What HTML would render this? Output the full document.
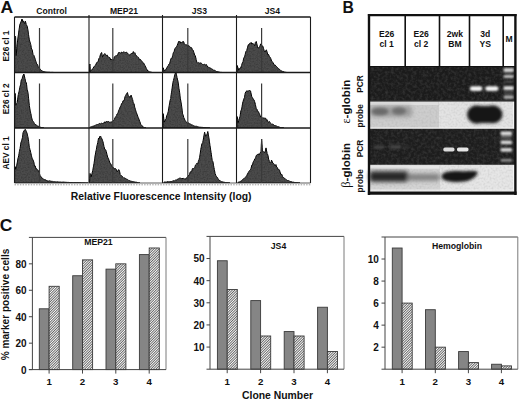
<!DOCTYPE html>
<html><head><meta charset="utf-8"><style>
html,body{margin:0;padding:0;background:#fff;}
svg{display:block;}
text{font-family:"Liberation Sans",sans-serif;}
</style></head><body>
<svg width="520" height="401" viewBox="0 0 520 401">
<rect width="520" height="401" fill="#fff"/>
<defs>
<filter id="hn" x="0" y="0" width="100%" height="100%"><feTurbulence type="fractalNoise" baseFrequency="0.7" numOctaves="1" seed="5" result="t"/><feColorMatrix in="t" type="matrix" values="0 0 0 0 0  0 0 0 0 0  0 0 0 0 0  0.9 0 0 0 -0.35" result="n"/><feComposite in="n" in2="SourceGraphic" operator="in" result="nn"/><feMerge><feMergeNode in="SourceGraphic"/><feMergeNode in="nn"/></feMerge></filter>
<filter id="b1" x="-50%" y="-50%" width="200%" height="200%"><feGaussianBlur stdDeviation="1.2"/></filter>
<filter id="b2" x="-50%" y="-50%" width="200%" height="200%"><feGaussianBlur stdDeviation="2"/></filter>
<filter id="b05" x="-50%" y="-50%" width="200%" height="200%"><feGaussianBlur stdDeviation="0.6"/></filter>
<filter id="noiseD" x="0" y="0" width="100%" height="100%"><feTurbulence type="fractalNoise" baseFrequency="0.35" numOctaves="2" seed="3"/><feColorMatrix type="matrix" values="0 0 0 0 1  0 0 0 0 1  0 0 0 0 1  0.22 0 0 0 -0.085"/></filter>
<filter id="noiseL" x="0" y="0" width="100%" height="100%"><feTurbulence type="fractalNoise" baseFrequency="0.5" numOctaves="2" seed="8"/><feColorMatrix type="matrix" values="0 0 0 0 0.3  0 0 0 0 0.3  0 0 0 0 0.3  0.5 0 0 0 -0.2"/></filter>
<filter id="b07" x="-50%" y="-50%" width="200%" height="200%"><feGaussianBlur stdDeviation="0.7"/></filter>
<filter id="b1g" x="-50%" y="-50%" width="200%" height="200%"><feGaussianBlur stdDeviation="0.9"/></filter>
<filter id="b15" x="-50%" y="-50%" width="200%" height="200%"><feGaussianBlur stdDeviation="1.5"/></filter>
<pattern id="hatch" patternUnits="userSpaceOnUse" width="1.8" height="1.8" patternTransform="rotate(45)">
<rect width="1.8" height="1.8" fill="#fafafa"/><rect width="0.7" height="1.8" fill="#3a3a3a"/></pattern>
</defs>
<path d="M14.6,72.5 L14.6,36.7 L15.6,36.5 L16.2,55.6 L17.0,46.4 L17.8,38.9 L18.5,34.1 L19.1,29.6 L19.8,24.7 L21.0,22.0 L22.0,19.0 L23.0,22.3 L23.5,20.9 L24.5,23.9 L25.4,21.2 L26.3,24.8 L27.2,26.2 L27.9,29.9 L28.5,34.3 L29.2,39.1 L30.0,42.1 L30.8,44.7 L31.5,49.2 L32.2,49.6 L33.0,54.4 L33.8,55.2 L34.5,57.1 L35.2,59.2 L36.0,61.8 L36.8,64.3 L37.5,64.4 L38.1,66.3 L38.8,67.6 L39.5,68.3 L40.3,69.5 L41.0,70.0 L41.8,70.8 L42.4,71.1 L43.1,71.4 L43.7,71.6 L44.4,71.8 L45.0,72.0 L45.7,72.0 L46.3,72.1 L47.0,72.2 L47.7,72.2 L48.3,72.2 L49.0,72.3 L49.6,72.3 L50.2,72.4 L50.8,72.4 L51.4,72.4 L52.0,72.4 L52.6,72.4 L53.2,72.4 L53.8,72.5 L54.4,72.5 L55.0,72.5 L55.0,72.5 Z" fill="#4c4c4c" stroke="#111" stroke-width="1" stroke-linejoin="miter" filter="url(#hn)"/>
<path d="M89.5,72.5 L89.5,72.5 L89.8,64.0 L90.4,71.7 L91.1,70.9 L91.7,70.0 L92.4,69.0 L93.1,68.4 L93.8,66.8 L94.6,66.4 L95.3,65.4 L96.0,64.1 L96.8,62.5 L97.5,62.3 L98.2,61.3 L98.9,58.6 L99.7,57.6 L100.4,54.6 L101.6,52.5 L102.6,56.9 L103.3,56.3 L104.0,54.3 L104.8,53.5 L105.5,54.4 L106.3,55.7 L107.0,54.9 L107.8,56.9 L108.5,57.0 L109.2,57.4 L110.0,57.8 L110.7,60.1 L111.4,59.1 L112.1,60.1 L112.8,59.8 L113.6,60.4 L114.3,56.9 L115.0,56.4 L115.7,55.9 L116.5,56.0 L117.2,55.1 L117.8,54.8 L118.4,52.8 L119.0,52.7 L119.6,52.1 L120.2,53.0 L120.9,53.7 L121.6,52.1 L122.3,52.7 L123.0,52.3 L123.8,51.8 L124.5,52.0 L125.2,52.7 L126.0,52.4 L126.7,52.2 L127.4,53.6 L128.2,53.7 L128.9,54.5 L129.6,55.2 L130.4,54.3 L131.1,53.5 L131.8,53.6 L132.6,53.5 L133.3,51.6 L134.1,53.4 L134.8,52.7 L135.5,54.5 L136.3,55.8 L137.0,56.2 L137.7,57.2 L138.5,57.4 L139.2,59.7 L139.9,59.0 L140.7,59.7 L141.4,60.8 L142.1,61.5 L142.8,62.7 L143.5,62.9 L144.2,64.1 L145.0,65.7 L145.7,66.9 L146.4,68.7 L147.2,70.0 L147.9,71.0 L148.7,71.3 L149.4,71.7 L150.1,71.9 L150.9,72.1 L151.6,72.3 L152.3,72.5 L152.3,72.5 Z" fill="#4c4c4c" stroke="#111" stroke-width="1" stroke-linejoin="miter" filter="url(#hn)"/>
<path d="M163.0,72.5 L163.0,72.5 L163.2,67.8 L163.9,69.8 L164.7,71.2 L165.4,70.0 L166.1,69.1 L166.8,67.8 L167.5,66.4 L168.3,65.5 L169.0,64.0 L169.7,63.6 L170.5,60.2 L171.2,58.2 L171.9,58.6 L172.7,55.5 L173.4,52.6 L174.1,51.7 L174.9,48.4 L175.6,47.8 L176.3,47.5 L177.1,45.7 L177.8,43.8 L178.8,41.2 L179.4,41.7 L180.1,41.5 L180.7,43.3 L181.4,42.4 L182.2,42.8 L182.9,41.4 L183.7,41.8 L184.4,44.1 L185.1,44.8 L185.9,44.7 L186.6,44.8 L187.3,45.6 L188.0,46.1 L188.8,45.5 L189.5,47.0 L190.2,47.4 L191.0,47.2 L191.7,48.0 L192.4,49.6 L193.2,50.4 L193.9,52.5 L194.6,55.0 L195.3,55.6 L196.1,59.4 L196.8,62.1 L197.5,63.0 L198.3,62.5 L199.0,63.2 L199.7,63.1 L200.5,63.0 L201.2,62.9 L201.9,63.9 L202.7,64.7 L203.4,64.7 L204.1,64.1 L204.9,64.6 L205.6,65.1 L206.3,64.4 L207.1,66.0 L207.8,67.0 L208.5,67.3 L209.2,67.7 L210.0,67.9 L210.7,68.1 L211.4,69.0 L212.1,69.0 L212.9,69.7 L213.6,70.2 L214.3,70.2 L215.1,70.6 L215.8,71.2 L216.5,71.5 L217.1,71.5 L217.7,71.7 L218.3,71.8 L218.9,72.1 L219.5,72.2 L220.1,72.3 L220.8,72.4 L221.4,72.4 L222.0,72.5 L222.0,72.5 Z" fill="#4c4c4c" stroke="#111" stroke-width="1" stroke-linejoin="miter" filter="url(#hn)"/>
<path d="M237.0,72.5 L237.0,72.5 L237.2,65.5 L237.9,67.6 L238.7,70.3 L239.4,69.1 L240.1,67.9 L240.8,68.0 L241.5,65.5 L242.3,63.1 L243.0,61.9 L243.7,58.2 L244.5,56.9 L245.2,54.3 L245.9,51.6 L246.7,50.7 L247.4,47.9 L248.2,44.8 L248.9,45.0 L249.6,43.4 L250.3,43.5 L251.1,42.4 L251.8,44.1 L252.6,43.1 L253.3,43.9 L254.0,44.6 L254.7,45.9 L255.4,42.4 L256.2,41.5 L256.9,44.1 L257.7,47.8 L258.4,48.1 L259.1,47.1 L259.9,46.4 L260.6,44.0 L261.3,43.9 L262.0,46.3 L262.8,46.1 L263.5,48.3 L264.2,50.8 L265.0,52.1 L265.7,50.5 L266.4,49.9 L267.1,52.2 L267.9,55.0 L268.6,54.5 L269.4,56.9 L270.1,57.2 L270.8,58.6 L271.6,61.1 L272.3,61.6 L273.0,62.7 L273.8,64.1 L274.5,65.3 L275.2,65.1 L276.0,66.1 L276.7,66.7 L277.4,67.4 L278.1,68.4 L278.8,68.9 L279.4,69.3 L280.0,69.7 L280.6,70.4 L281.2,70.7 L281.8,71.1 L282.5,71.4 L283.2,71.5 L284.0,71.9 L284.7,72.2 L285.5,72.3 L286.2,72.4 L287.0,72.5 L287.0,72.5 Z" fill="#4c4c4c" stroke="#111" stroke-width="1" stroke-linejoin="miter" filter="url(#hn)"/>
<path d="M14.6,128.0 L14.6,93.9 L15.3,93.5 L15.8,105.4 L16.5,103.4 L17.2,102.7 L18.4,94.3 L19.1,91.4 L19.8,87.3 L20.6,84.7 L21.3,79.9 L22.1,78.8 L22.8,76.1 L23.9,74.0 L25.0,78.8 L25.7,82.0 L26.4,83.0 L27.1,89.3 L27.9,92.2 L28.6,98.3 L29.3,105.5 L30.1,110.2 L30.8,113.5 L31.5,117.1 L32.3,120.2 L33.0,121.2 L33.8,122.3 L34.5,123.7 L35.2,124.6 L36.0,124.6 L36.7,125.5 L37.4,126.0 L38.1,126.1 L38.8,126.5 L39.6,126.9 L40.3,127.2 L40.9,127.3 L41.5,127.5 L42.1,127.6 L42.8,127.8 L43.4,127.9 L44.0,128.0 L44.0,128.0 Z" fill="#4c4c4c" stroke="#111" stroke-width="1" stroke-linejoin="miter" filter="url(#hn)"/>
<path d="M89.5,128.0 L89.5,128.0 L90.2,127.2 L90.9,126.8 L91.6,126.8 L92.4,126.4 L93.1,126.1 L93.8,126.0 L94.4,125.9 L95.0,125.6 L95.6,125.0 L96.2,124.6 L96.8,124.9 L97.5,124.5 L98.2,124.4 L99.0,123.7 L99.7,123.5 L100.4,123.9 L101.2,123.5 L101.9,122.9 L102.6,123.7 L103.3,123.1 L104.1,123.1 L104.8,121.8 L105.5,122.7 L106.3,121.3 L107.0,122.2 L107.7,121.6 L108.5,121.5 L109.2,121.8 L109.9,122.6 L110.7,121.8 L111.4,121.9 L112.1,122.1 L112.8,121.3 L113.5,120.3 L114.3,119.6 L115.0,117.8 L115.8,116.5 L116.5,115.4 L117.2,113.9 L118.0,113.2 L118.7,110.2 L119.4,109.2 L120.2,106.9 L120.9,105.9 L121.6,103.6 L122.4,102.8 L123.1,100.7 L123.8,101.1 L124.5,99.1 L125.1,96.4 L125.7,95.3 L126.7,93.6 L127.4,92.6 L128.2,95.5 L128.9,96.0 L129.7,97.6 L130.4,97.4 L131.1,95.1 L131.8,97.2 L132.6,99.5 L133.3,102.9 L134.0,103.8 L134.8,107.6 L135.5,109.8 L136.2,112.2 L137.0,114.2 L137.7,116.2 L138.4,117.8 L139.2,119.9 L139.9,121.8 L140.6,124.1 L141.3,125.1 L142.0,125.8 L142.8,126.4 L143.5,127.3 L144.1,127.5 L144.8,127.6 L145.4,127.8 L146.0,128.0 L146.0,128.0 Z" fill="#4c4c4c" stroke="#111" stroke-width="1" stroke-linejoin="miter" filter="url(#hn)"/>
<path d="M163.0,128.0 L163.0,128.0 L163.2,113.7 L164.2,122.1 L164.8,121.1 L165.5,119.3 L166.1,118.7 L166.8,115.3 L167.6,114.1 L168.3,111.2 L169.2,105.7 L170.1,100.5 L170.7,98.5 L171.4,92.9 L172.0,89.1 L172.7,83.9 L173.4,80.5 L174.2,77.4 L174.9,74.2 L175.9,72.1 L177.1,77.8 L178.2,82.4 L178.9,88.2 L179.7,92.8 L180.4,98.8 L181.2,103.0 L181.9,108.1 L182.6,113.9 L183.2,115.2 L183.8,117.6 L184.4,118.9 L185.1,120.5 L185.9,121.5 L186.6,122.7 L187.3,123.2 L188.1,122.8 L188.8,123.0 L189.5,124.2 L190.3,123.8 L191.0,124.8 L191.7,125.0 L192.4,124.8 L193.2,125.6 L193.9,125.9 L194.6,126.1 L195.2,126.2 L195.9,126.4 L196.5,126.3 L197.1,126.6 L197.7,126.7 L198.4,126.9 L199.0,127.1 L199.6,127.2 L200.2,127.2 L200.8,127.3 L201.4,127.3 L202.0,127.4 L202.6,127.4 L203.2,127.5 L203.8,127.6 L204.4,127.7 L205.0,127.8 L205.6,127.8 L206.2,127.9 L206.9,127.9 L207.5,127.9 L208.1,127.9 L208.8,127.9 L209.4,128.0 L210.0,128.0 L210.0,128.0 Z" fill="#4c4c4c" stroke="#111" stroke-width="1" stroke-linejoin="miter" filter="url(#hn)"/>
<path d="M237.0,128.0 L237.0,128.0 L237.2,116.6 L238.2,122.7 L238.8,120.2 L239.5,118.1 L240.1,116.2 L240.8,111.0 L241.6,109.1 L242.3,105.0 L243.0,101.6 L243.8,99.1 L244.5,97.4 L245.2,93.1 L246.0,91.6 L247.0,90.7 L248.2,91.7 L249.3,90.0 L250.5,90.9 L251.2,94.0 L251.8,96.8 L252.6,97.9 L253.3,99.4 L254.0,99.8 L254.7,101.8 L255.4,104.6 L256.2,108.4 L256.9,109.1 L257.7,111.7 L258.4,111.7 L259.1,113.3 L259.9,114.9 L260.6,117.0 L261.3,117.8 L262.0,118.4 L262.7,117.5 L263.5,118.0 L264.2,117.9 L264.9,118.4 L265.7,118.2 L266.4,120.3 L267.1,119.7 L267.9,121.8 L268.6,122.4 L269.3,121.5 L270.1,122.6 L270.8,123.6 L271.5,124.2 L272.3,124.1 L273.0,124.4 L273.7,124.7 L274.4,125.6 L275.2,125.5 L275.9,126.0 L276.5,126.0 L277.2,126.4 L277.8,126.8 L278.4,126.7 L279.0,127.1 L279.7,127.2 L280.3,127.5 L280.9,127.5 L281.5,127.6 L282.1,127.7 L282.8,127.8 L283.4,127.9 L284.0,128.0 L284.0,128.0 Z" fill="#4c4c4c" stroke="#111" stroke-width="1" stroke-linejoin="miter" filter="url(#hn)"/>
<path d="M14.6,183.0 L14.6,166.5 L15.2,166.7 L15.8,169.4 L16.5,166.3 L17.2,163.0 L17.9,158.9 L18.7,155.8 L19.4,151.4 L20.1,148.4 L20.9,142.6 L21.6,140.9 L22.4,137.8 L23.1,132.6 L24.2,130.3 L25.4,129.4 L26.4,131.7 L27.1,133.4 L27.9,136.9 L28.6,141.3 L29.3,147.3 L30.1,149.9 L30.8,152.9 L31.5,156.1 L32.3,158.6 L33.0,160.0 L33.8,162.0 L34.5,165.9 L35.2,165.9 L36.0,169.1 L36.7,168.7 L37.3,169.5 L38.0,170.9 L38.6,170.8 L39.3,172.7 L40.0,175.4 L40.9,176.6 L41.8,177.8 L42.5,178.2 L43.3,179.1 L44.0,179.7 L44.6,179.6 L45.2,180.0 L45.8,179.7 L46.4,180.5 L47.0,180.5 L47.6,180.9 L48.2,181.0 L48.8,180.9 L49.4,180.8 L50.0,181.3 L50.6,181.1 L51.2,181.3 L51.9,181.3 L52.5,181.4 L53.1,181.6 L53.7,181.8 L54.3,181.6 L54.9,181.8 L55.5,181.8 L56.1,181.9 L56.7,181.9 L57.3,181.8 L57.9,181.9 L58.5,181.9 L59.1,182.1 L59.8,182.0 L60.4,182.0 L61.0,182.2 L61.6,182.2 L62.2,182.1 L62.8,182.1 L63.4,182.1 L64.0,182.1 L64.6,182.2 L65.2,182.2 L65.8,182.3 L66.4,182.3 L67.0,182.4 L67.6,182.4 L68.3,182.4 L68.9,182.4 L69.5,182.5 L70.1,182.5 L70.7,182.5 L71.3,182.5 L71.9,182.5 L72.5,182.6 L73.1,182.7 L73.7,182.6 L74.4,182.6 L75.0,182.7 L75.6,182.7 L76.2,182.7 L76.8,182.7 L77.5,182.7 L78.1,182.7 L78.7,182.8 L79.3,182.8 L79.9,182.8 L80.6,182.8 L81.2,182.8 L81.8,182.8 L82.4,182.9 L83.0,182.9 L83.7,182.9 L84.3,182.9 L84.9,182.9 L85.5,182.9 L86.1,183.0 L86.8,183.0 L87.4,183.0 L88.0,183.0 L88.0,183.0 Z" fill="#4c4c4c" stroke="#111" stroke-width="1" stroke-linejoin="miter" filter="url(#hn)"/>
<path d="M89.5,183.0 L89.5,183.0 L90.0,173.5 L90.6,174.4 L91.2,176.9 L92.0,173.4 L92.7,170.9 L93.4,166.9 L94.1,163.2 L94.8,157.9 L95.6,153.0 L96.3,149.6 L97.1,145.2 L97.8,142.5 L98.5,138.2 L99.1,139.0 L99.7,136.5 L100.6,136.1 L101.2,137.6 L101.9,138.9 L102.6,140.6 L103.3,143.2 L104.0,146.7 L104.8,149.4 L105.5,149.7 L106.3,151.5 L107.0,154.9 L107.7,157.2 L108.5,158.9 L109.2,160.6 L110.0,163.4 L110.7,163.7 L111.4,165.2 L112.1,166.4 L112.8,168.0 L113.6,167.6 L114.3,168.9 L115.0,168.6 L115.7,168.7 L116.3,169.4 L117.0,172.0 L117.8,171.0 L118.7,169.6 L119.5,171.1 L120.2,174.5 L120.9,175.6 L121.6,175.8 L122.3,176.3 L123.0,177.4 L123.8,178.2 L124.5,177.9 L125.1,178.0 L125.7,178.6 L126.3,179.0 L126.9,179.5 L127.5,179.4 L128.2,180.2 L128.9,180.5 L129.7,180.7 L130.4,181.0 L131.0,181.4 L131.7,181.3 L132.3,181.6 L132.9,181.5 L133.5,181.7 L134.2,181.9 L134.8,182.0 L135.5,182.2 L136.1,182.2 L136.8,182.3 L137.4,182.5 L138.1,182.6 L138.7,182.8 L139.3,182.9 L140.0,183.0 L140.0,183.0 Z" fill="#4c4c4c" stroke="#111" stroke-width="1" stroke-linejoin="miter" filter="url(#hn)"/>
<path d="M163.9,183.0 L163.9,182.2 L164.5,182.1 L165.2,182.1 L165.8,182.0 L166.4,182.1 L167.0,181.8 L167.7,181.7 L168.3,181.7 L168.9,181.7 L169.6,181.7 L170.2,181.6 L170.8,181.5 L171.4,181.5 L172.1,181.4 L172.7,181.0 L173.4,180.7 L174.1,180.9 L174.9,180.6 L175.6,180.0 L176.3,180.1 L177.1,179.5 L177.8,179.1 L178.5,178.7 L179.1,178.4 L179.7,178.1 L180.3,178.2 L180.9,178.2 L181.5,178.7 L182.2,178.0 L182.9,179.0 L183.7,178.4 L184.4,178.8 L185.1,179.0 L185.9,178.8 L186.6,178.1 L187.3,176.8 L188.0,176.7 L188.8,175.0 L189.5,174.7 L190.2,172.0 L191.0,171.4 L191.7,171.8 L192.4,168.6 L193.2,168.6 L193.9,168.7 L194.6,167.9 L195.4,165.2 L196.1,164.5 L196.8,163.4 L197.6,164.4 L198.3,161.5 L199.0,159.8 L199.7,157.2 L200.8,149.3 L201.9,143.9 L202.7,142.8 L203.4,139.0 L204.6,132.2 L205.6,136.4 L206.6,135.3 L207.2,133.7 L207.8,131.5 L208.9,137.9 L210.0,145.6 L211.0,152.1 L212.2,160.4 L212.9,161.6 L213.6,165.8 L214.3,169.3 L215.1,173.5 L215.8,175.4 L216.5,176.5 L217.2,177.3 L218.0,178.6 L218.7,179.6 L219.4,180.5 L220.2,180.6 L220.9,181.5 L221.5,181.7 L222.2,181.8 L222.8,182.0 L223.4,182.1 L224.0,182.2 L224.7,182.4 L225.3,182.6 L226.0,182.7 L226.6,182.7 L227.3,182.8 L228.0,182.8 L228.7,182.9 L229.3,182.9 L230.0,183.0 L230.0,183.0 Z" fill="#4c4c4c" stroke="#111" stroke-width="1" stroke-linejoin="miter" filter="url(#hn)"/>
<path d="M237.9,183.0 L237.9,182.6 L238.6,182.1 L239.4,181.9 L240.1,181.4 L240.8,181.3 L241.4,180.9 L242.0,180.5 L242.6,179.6 L243.2,179.0 L243.8,178.5 L244.5,178.2 L245.2,177.7 L246.0,176.6 L246.7,175.6 L247.4,174.1 L248.2,172.8 L248.9,171.3 L249.6,170.5 L250.4,169.8 L251.1,168.3 L251.8,165.1 L252.5,165.2 L253.2,161.9 L254.0,160.8 L254.8,158.8 L255.5,158.3 L256.2,155.8 L256.9,154.8 L257.6,154.5 L258.4,153.9 L259.1,155.0 L259.8,153.5 L261.0,151.5 L261.6,139.1 L262.5,151.7 L263.2,151.5 L263.9,151.9 L265.0,152.6 L266.0,147.9 L267.2,153.9 L267.9,154.9 L268.6,159.1 L269.4,161.5 L270.1,163.0 L270.8,162.8 L271.5,160.1 L272.7,163.0 L273.4,163.3 L274.2,164.2 L275.0,165.9 L275.9,164.5 L276.6,167.2 L277.4,167.6 L278.1,169.6 L278.8,169.3 L279.5,170.2 L280.3,173.0 L281.0,174.8 L281.7,174.2 L282.5,176.4 L283.2,177.6 L283.8,177.6 L284.4,178.3 L285.0,178.5 L285.6,179.1 L286.2,179.7 L286.8,180.2 L287.4,180.5 L288.0,180.5 L288.7,180.6 L289.3,181.0 L289.9,181.4 L290.5,181.5 L291.1,181.7 L291.8,181.8 L292.4,182.1 L293.1,182.2 L293.7,182.2 L294.4,182.4 L295.0,182.6 L295.6,182.7 L296.2,182.7 L296.9,182.7 L297.5,182.8 L298.1,182.9 L298.8,182.9 L299.4,182.9 L300.0,183.0 L300.0,183.0 Z" fill="#4c4c4c" stroke="#111" stroke-width="1" stroke-linejoin="miter" filter="url(#hn)"/>
<line x1="39.5" y1="28" x2="39.5" y2="72.5" stroke="#3a3a3a" stroke-width="1.2"/>
<line x1="112.8" y1="28" x2="112.8" y2="72.5" stroke="#3a3a3a" stroke-width="1.2"/>
<line x1="187.8" y1="28" x2="187.8" y2="72.5" stroke="#3a3a3a" stroke-width="1.2"/>
<line x1="261.6" y1="28" x2="261.6" y2="72.5" stroke="#3a3a3a" stroke-width="1.2"/>
<line x1="39.5" y1="83.5" x2="39.5" y2="128" stroke="#3a3a3a" stroke-width="1.2"/>
<line x1="112.8" y1="83.5" x2="112.8" y2="128" stroke="#3a3a3a" stroke-width="1.2"/>
<line x1="187.8" y1="83.5" x2="187.8" y2="128" stroke="#3a3a3a" stroke-width="1.2"/>
<line x1="261.6" y1="83.5" x2="261.6" y2="128" stroke="#3a3a3a" stroke-width="1.2"/>
<line x1="39.5" y1="139" x2="39.5" y2="183" stroke="#3a3a3a" stroke-width="1.2"/>
<line x1="112.8" y1="139" x2="112.8" y2="183" stroke="#3a3a3a" stroke-width="1.2"/>
<line x1="187.8" y1="139" x2="187.8" y2="183" stroke="#3a3a3a" stroke-width="1.2"/>
<line x1="261.6" y1="139" x2="261.6" y2="183" stroke="#3a3a3a" stroke-width="1.2"/>
<g stroke="#1a1a1a" fill="none">
<line x1="14.5" y1="17" x2="310.5" y2="17" stroke-width="1.4"/>
<line x1="14.5" y1="72.5" x2="310.5" y2="72.5" stroke-width="1.4"/>
<line x1="14.5" y1="128" x2="310.5" y2="128" stroke-width="1.4"/>
<line x1="14.5" y1="17" x2="14.5" y2="183" stroke-width="1.1"/>
<line x1="89" y1="15" x2="89" y2="183" stroke-width="1.1"/>
<line x1="162.5" y1="15" x2="162.5" y2="183" stroke-width="1.1"/>
<line x1="236.5" y1="15" x2="236.5" y2="183" stroke-width="1.1"/>
<line x1="310.5" y1="17" x2="310.5" y2="183" stroke-width="1.1"/>
</g>
<line x1="14.5" y1="184.8" x2="310.5" y2="184.8" stroke="#9a9a9a" stroke-width="1" stroke-dasharray="1.5 1.2"/>
<line x1="14.5" y1="183" x2="310.5" y2="183" stroke="#333" stroke-width="0.8"/>
<text x="0" y="12.7" font-size="16.4" font-weight="bold" fill="#111" transform="translate(0.6 0) scale(1.07 1)">A</text>
<text x="51.6" y="14" font-size="8.6" font-weight="bold" text-anchor="middle" fill="#111" >Control</text>
<text x="124" y="14" font-size="8.6" font-weight="bold" text-anchor="middle" fill="#111" >MEP21</text>
<text x="199.5" y="14" font-size="8.6" font-weight="bold" text-anchor="middle" fill="#111" >JS3</text>
<text x="272.5" y="14" font-size="8.6" font-weight="bold" text-anchor="middle" fill="#111" >JS4</text>
<text x="8.8" y="46" font-size="8.3" font-weight="bold" text-anchor="middle" fill="#111" transform="rotate(-90 8.8 46)" >E26 cl 1</text>
<text x="8.8" y="98.8" font-size="8.3" font-weight="bold" text-anchor="middle" fill="#111" transform="rotate(-90 8.8 98.8)" >E26 cl 2</text>
<text x="8.8" y="153" font-size="8.3" font-weight="bold" text-anchor="middle" fill="#111" transform="rotate(-90 8.8 153)" >AEV cl 1</text>
<text x="161.2" y="200.1" font-size="10.4" font-weight="bold" text-anchor="middle" fill="#111" >Relative Fluorescence Intensity (log)</text>
<text x="342.5" y="12.9" font-size="15.8" font-weight="bold" text-anchor="start" fill="#111" >B</text>
<rect x="369.5" y="15.3" width="146.0" height="51.5" fill="#fff"/>
<rect x="369.5" y="66.8" width="146.0" height="34" fill="#1b1b1b"/>
<rect x="369.5" y="101.3" width="69.5" height="27" fill="#cdcdcd"/>
<rect x="439" y="101.3" width="76.5" height="27" fill="#e3e3e3"/>
<rect x="369.5" y="128.5" width="146.0" height="36.3" fill="#1d1d1d"/>
<rect x="369.5" y="165.2" width="146.0" height="25.5" fill="#d4d4d4"/>
<rect x="440" y="165.2" width="75.5" height="25.5" fill="#e6e6e6"/>
<rect x="369.5" y="66.8" width="146.0" height="34" filter="url(#noiseD)" opacity="1"/>
<rect x="369.5" y="128.5" width="146.0" height="36.3" filter="url(#noiseD)"/>
<rect x="369.5" y="101.3" width="146.0" height="27" filter="url(#noiseL)"/>
<rect x="369.5" y="165.2" width="146.0" height="25.5" filter="url(#noiseL)"/>
<rect x="369.5" y="101.5" width="69" height="3.5" fill="#dedede" filter="url(#b05)"/>
<rect x="369.5" y="165.5" width="70" height="3.2" fill="#e6e6e6" filter="url(#b05)"/>
<g filter="url(#b1g)" fill="#f4f4f4">
<rect x="469.8" y="86.2" width="12.6" height="4.8" rx="2.4"/><rect x="485.2" y="86.2" width="13.4" height="4.8" rx="2.4"/>
</g>
<g filter="url(#b1g)" fill="#d6d6d6">
<rect x="503.6" y="68.3" width="10.2" height="3.4" rx="1" fill="#e4e4e4"/>
<rect x="503.6" y="74.9" width="10.2" height="3" rx="1" fill="#c4c4c4"/>
<rect x="503.6" y="86.3" width="10.2" height="3.7" rx="1" fill="#e4e4e4"/>
<rect x="503.6" y="95.6" width="10.2" height="3.2" rx="1" fill="#b4b4b4"/>
<rect x="504" y="71.5" width="9" height="1.5" fill="#707070"/><rect x="504" y="81" width="9" height="1.5" fill="#606060"/><rect x="504" y="92" width="9" height="1.5" fill="#606060"/>
</g>
<g filter="url(#b07)" fill="#e0e0e0">
<rect x="443.3" y="147.6" width="11.2" height="3.8" rx="1.6" fill="#dcdcdc"/><rect x="457" y="147.6" width="11.5" height="3.8" rx="1.6" fill="#e6e6e6"/>
</g>
<g filter="url(#b1g)">
<rect x="500.6" y="131.6" width="11.4" height="3.6" rx="1.2" fill="#e4e4e4"/>
<rect x="500.6" y="136.3" width="11.4" height="1.8" rx="1.2" fill="#707070"/>
<rect x="500.6" y="140.6" width="11.4" height="3.6" rx="1.2" fill="#dadada"/>
<rect x="500.6" y="148.1" width="11.4" height="3.6" rx="1.2" fill="#d8d8d8"/>
<rect x="500.6" y="158.9" width="11.4" height="2.6" rx="1.2" fill="#9a9a9a"/>
</g>
<g filter="url(#b1)" fill="#484848"><rect x="374" y="145.8" width="10" height="2.6"/><rect x="390" y="145.3" width="11" height="3.2"/><rect x="403" y="146" width="6" height="2.5" fill="#333"/></g>
<g filter="url(#b2)"><rect x="370" y="106" width="42" height="11" rx="3" fill="#9c9c9c"/></g>
<g filter="url(#b15)"><ellipse cx="380" cy="111.5" rx="8.5" ry="3.8" fill="#6a6a6a"/><ellipse cx="399" cy="111" rx="7" ry="3.8" fill="#707070"/></g>
<g filter="url(#b15)" fill="#161616"><ellipse cx="477" cy="114.5" rx="10" ry="9.3"/><ellipse cx="492.5" cy="114.3" rx="10" ry="9"/><rect x="477" y="106" width="15.5" height="17"/></g>
<g filter="url(#b2)"><rect x="369.5" y="171.3" width="39" height="10.5" rx="3" fill="#262626"/><rect x="407" y="173.8" width="33" height="7" rx="3" fill="#808080"/></g>
<g filter="url(#b15)"><path d="M441.5,176.5 C441.5,171.5 452,170.8 462,171.2 C472,171.2 479,170 477.5,173.5 C475,178.5 468,182 458,182 C448,182 441.5,180.5 441.5,176.5 Z" fill="#161616"/></g>
<rect x="513" y="101.3" width="1.5" height="27" fill="#f4f4f4"/><rect x="513" y="165.2" width="1.5" height="26" fill="#f4f4f4"/>
<rect x="369.5" y="127.5" width="146.0" height="1" fill="#f6f6f6"/>
<rect x="369.5" y="189.6" width="146.0" height="0.9" fill="#f0f0f0"/>
<g stroke="#111" fill="none">
<line x1="367.9" y1="15.1" x2="516.6" y2="15.1" stroke-width="2.3"/>
<line x1="369.0" y1="14" x2="369.0" y2="195" stroke-width="2.4"/>
<line x1="515.4" y1="14" x2="515.4" y2="195" stroke-width="2.4"/>
<line x1="367.9" y1="193.2" x2="516.6" y2="193.2" stroke-width="3.3"/>
<line x1="369.5" y1="66.5" x2="515.5" y2="66.5" stroke-width="1.2"/>
<line x1="369.5" y1="101" x2="515.5" y2="101" stroke-width="1"/>
<line x1="405.2" y1="15" x2="405.2" y2="66.8" stroke-width="1.6"/>
<line x1="439.5" y1="15" x2="439.5" y2="66.8" stroke-width="1.6"/>
<line x1="469.5" y1="15" x2="469.5" y2="66.8" stroke-width="1.6"/>
<line x1="503.2" y1="15" x2="503.2" y2="66.8" stroke-width="1.6"/>
</g>
<text x="386.6" y="36.6" font-size="8.6" font-weight="bold" text-anchor="middle" fill="#111" >E26</text>
<text x="386.6" y="47" font-size="8.6" font-weight="bold" text-anchor="middle" fill="#111" >cl 1</text>
<text x="421.2" y="36.6" font-size="8.6" font-weight="bold" text-anchor="middle" fill="#111" >E26</text>
<text x="421.2" y="47" font-size="8.6" font-weight="bold" text-anchor="middle" fill="#111" >cl 2</text>
<text x="454.9" y="36.6" font-size="8.6" font-weight="bold" text-anchor="middle" fill="#111" >2wk</text>
<text x="454.9" y="47" font-size="8.6" font-weight="bold" text-anchor="middle" fill="#111" >BM</text>
<text x="485.2" y="36.6" font-size="8.6" font-weight="bold" text-anchor="middle" fill="#111" >3d</text>
<text x="485.2" y="47" font-size="8.6" font-weight="bold" text-anchor="middle" fill="#111" >YS</text>
<text x="509" y="42" font-size="8.6" font-weight="bold" text-anchor="middle" fill="#111" >M</text>
<text x="363.3" y="84" font-size="8.4" font-weight="bold" text-anchor="middle" fill="#111" transform="rotate(-90 363.3 84)" >PCR</text>
<text x="363.3" y="115.8" font-size="8.4" font-weight="bold" text-anchor="middle" fill="#111" transform="rotate(-90 363.3 115.8)" >probe</text>
<text x="363.3" y="148.5" font-size="8.4" font-weight="bold" text-anchor="middle" fill="#111" transform="rotate(-90 363.3 148.5)" >PCR</text>
<text x="363.3" y="180.8" font-size="8.4" font-weight="bold" text-anchor="middle" fill="#111" transform="rotate(-90 363.3 180.8)" >probe</text>
<text x="350.4" y="101.6" font-size="11.6" font-weight="bold" text-anchor="middle" fill="#111" transform="rotate(-90 350.4 101.6)" font-family="Liberation Sans, sans-serif"><tspan font-family="Liberation Serif, serif" font-weight="normal" font-size="12">ε</tspan>-globin</text>
<text x="350" y="165.3" font-size="11.6" font-weight="bold" text-anchor="middle" fill="#111" transform="rotate(-90 350 165.3)" font-family="Liberation Sans, sans-serif"><tspan font-family="Liberation Serif, serif" font-weight="normal" font-size="12.5">β</tspan>-globin</text>
<text x="-0.3" y="231.2" font-size="17.4" font-weight="bold" text-anchor="start" fill="#111" >C</text>
<rect x="39.30" y="308.79" width="9.8" height="60.81" fill="#858585" stroke="#3a3a3a" stroke-width="0.9"/>
<rect x="49.10" y="286.31" width="10.1" height="83.29" fill="url(#hatch)" stroke="#3a3a3a" stroke-width="0.9"/>
<line x1="49.1" y1="369.6" x2="49.1" y2="373.6" stroke="#333" stroke-width="0.9"/>
<rect x="72.70" y="275.74" width="9.8" height="93.86" fill="#858585" stroke="#3a3a3a" stroke-width="0.9"/>
<rect x="82.50" y="259.87" width="10.1" height="109.73" fill="url(#hatch)" stroke="#3a3a3a" stroke-width="0.9"/>
<line x1="82.5" y1="369.6" x2="82.5" y2="373.6" stroke="#333" stroke-width="0.9"/>
<rect x="106.00" y="269.13" width="9.8" height="100.47" fill="#858585" stroke="#3a3a3a" stroke-width="0.9"/>
<rect x="115.80" y="263.84" width="10.1" height="105.76" fill="url(#hatch)" stroke="#3a3a3a" stroke-width="0.9"/>
<line x1="115.8" y1="369.6" x2="115.8" y2="373.6" stroke="#333" stroke-width="0.9"/>
<rect x="139.40" y="254.59" width="9.8" height="115.01" fill="#858585" stroke="#3a3a3a" stroke-width="0.9"/>
<rect x="149.20" y="247.98" width="10.1" height="121.62" fill="url(#hatch)" stroke="#3a3a3a" stroke-width="0.9"/>
<line x1="149.2" y1="369.6" x2="149.2" y2="373.6" stroke="#333" stroke-width="0.9"/>
<text x="49.1" y="385.1" font-size="9.7" font-weight="bold" text-anchor="middle" fill="#111" >1</text>
<text x="82.5" y="385.1" font-size="9.7" font-weight="bold" text-anchor="middle" fill="#111" >2</text>
<text x="115.8" y="385.1" font-size="9.7" font-weight="bold" text-anchor="middle" fill="#111" >3</text>
<text x="149.2" y="385.1" font-size="9.7" font-weight="bold" text-anchor="middle" fill="#111" >4</text>
<line x1="32.4" y1="237.4" x2="32.4" y2="369.6" stroke="#444" stroke-width="1"/>
<line x1="28.9" y1="237.4" x2="166" y2="237.4" stroke="#444" stroke-width="1"/>
<line x1="166" y1="237.4" x2="166" y2="369.6" stroke="#7a7a7a" stroke-width="1"/>
<line x1="28.9" y1="369.6" x2="166" y2="369.6" stroke="#444" stroke-width="1"/>
<line x1="28.9" y1="369.60" x2="32.4" y2="369.60" stroke="#444" stroke-width="1"/>
<text x="26.6" y="373.5" font-size="10" font-weight="bold" text-anchor="end" fill="#111" >0</text>
<line x1="28.9" y1="343.16" x2="32.4" y2="343.16" stroke="#444" stroke-width="1"/>
<text x="26.6" y="347.06" font-size="10" font-weight="bold" text-anchor="end" fill="#111" >20</text>
<line x1="28.9" y1="316.72" x2="32.4" y2="316.72" stroke="#444" stroke-width="1"/>
<text x="26.6" y="320.62" font-size="10" font-weight="bold" text-anchor="end" fill="#111" >40</text>
<line x1="28.9" y1="290.28" x2="32.4" y2="290.28" stroke="#444" stroke-width="1"/>
<text x="26.6" y="294.18" font-size="10" font-weight="bold" text-anchor="end" fill="#111" >60</text>
<line x1="28.9" y1="263.84" x2="32.4" y2="263.84" stroke="#444" stroke-width="1"/>
<text x="26.6" y="267.74" font-size="10" font-weight="bold" text-anchor="end" fill="#111" >80</text>
<text x="98.4" y="244.8" font-size="8.7" font-weight="bold" text-anchor="middle" fill="#111" >MEP21</text>
<rect x="217.40" y="260.75" width="9.8" height="108.45" fill="#858585" stroke="#3a3a3a" stroke-width="0.9"/>
<rect x="227.20" y="289.52" width="10.1" height="79.68" fill="url(#hatch)" stroke="#3a3a3a" stroke-width="0.9"/>
<line x1="227.2" y1="369.2" x2="227.2" y2="373.2" stroke="#333" stroke-width="0.9"/>
<rect x="250.80" y="300.59" width="9.8" height="68.61" fill="#858585" stroke="#3a3a3a" stroke-width="0.9"/>
<rect x="260.60" y="336.00" width="10.1" height="33.20" fill="url(#hatch)" stroke="#3a3a3a" stroke-width="0.9"/>
<line x1="260.6" y1="369.2" x2="260.6" y2="373.2" stroke="#333" stroke-width="0.9"/>
<rect x="284.20" y="331.57" width="9.8" height="37.63" fill="#858585" stroke="#3a3a3a" stroke-width="0.9"/>
<rect x="294.00" y="336.00" width="10.1" height="33.20" fill="url(#hatch)" stroke="#3a3a3a" stroke-width="0.9"/>
<line x1="294" y1="369.2" x2="294" y2="373.2" stroke="#333" stroke-width="0.9"/>
<rect x="317.60" y="307.23" width="9.8" height="61.97" fill="#858585" stroke="#3a3a3a" stroke-width="0.9"/>
<rect x="327.40" y="351.49" width="10.1" height="17.71" fill="url(#hatch)" stroke="#3a3a3a" stroke-width="0.9"/>
<line x1="327.4" y1="369.2" x2="327.4" y2="373.2" stroke="#333" stroke-width="0.9"/>
<text x="227.2" y="385.1" font-size="9.7" font-weight="bold" text-anchor="middle" fill="#111" >1</text>
<text x="260.6" y="385.1" font-size="9.7" font-weight="bold" text-anchor="middle" fill="#111" >2</text>
<text x="294" y="385.1" font-size="9.7" font-weight="bold" text-anchor="middle" fill="#111" >3</text>
<text x="327.4" y="385.1" font-size="9.7" font-weight="bold" text-anchor="middle" fill="#111" >4</text>
<line x1="210" y1="236.4" x2="210" y2="369.2" stroke="#444" stroke-width="1"/>
<line x1="206.5" y1="236.4" x2="344" y2="236.4" stroke="#444" stroke-width="1"/>
<line x1="344" y1="236.4" x2="344" y2="369.2" stroke="#7a7a7a" stroke-width="1"/>
<line x1="206.5" y1="369.2" x2="344" y2="369.2" stroke="#444" stroke-width="1"/>
<line x1="206.5" y1="347.07" x2="210" y2="347.07" stroke="#444" stroke-width="1"/>
<text x="204.5" y="350.96666666666664" font-size="10" font-weight="bold" text-anchor="end" fill="#111" >10</text>
<line x1="206.5" y1="324.93" x2="210" y2="324.93" stroke="#444" stroke-width="1"/>
<text x="204.5" y="328.8333333333333" font-size="10" font-weight="bold" text-anchor="end" fill="#111" >20</text>
<line x1="206.5" y1="302.80" x2="210" y2="302.80" stroke="#444" stroke-width="1"/>
<text x="204.5" y="306.7" font-size="10" font-weight="bold" text-anchor="end" fill="#111" >30</text>
<line x1="206.5" y1="280.67" x2="210" y2="280.67" stroke="#444" stroke-width="1"/>
<text x="204.5" y="284.56666666666666" font-size="10" font-weight="bold" text-anchor="end" fill="#111" >40</text>
<line x1="206.5" y1="258.53" x2="210" y2="258.53" stroke="#444" stroke-width="1"/>
<text x="204.5" y="262.43333333333334" font-size="10" font-weight="bold" text-anchor="end" fill="#111" >50</text>
<text x="278.5" y="249" font-size="8.7" font-weight="bold" text-anchor="middle" fill="#111" >JS4</text>
<rect x="392.30" y="248.02" width="9.8" height="121.18" fill="#858585" stroke="#3a3a3a" stroke-width="0.9"/>
<rect x="402.10" y="303.10" width="10.1" height="66.10" fill="url(#hatch)" stroke="#3a3a3a" stroke-width="0.9"/>
<line x1="402.1" y1="369.2" x2="402.1" y2="373.2" stroke="#333" stroke-width="0.9"/>
<rect x="425.50" y="309.71" width="9.8" height="59.49" fill="#858585" stroke="#3a3a3a" stroke-width="0.9"/>
<rect x="435.30" y="347.17" width="10.1" height="22.03" fill="url(#hatch)" stroke="#3a3a3a" stroke-width="0.9"/>
<line x1="435.3" y1="369.2" x2="435.3" y2="373.2" stroke="#333" stroke-width="0.9"/>
<rect x="458.60" y="351.57" width="9.8" height="17.63" fill="#858585" stroke="#3a3a3a" stroke-width="0.9"/>
<rect x="468.40" y="362.59" width="10.1" height="6.61" fill="url(#hatch)" stroke="#3a3a3a" stroke-width="0.9"/>
<line x1="468.4" y1="369.2" x2="468.4" y2="373.2" stroke="#333" stroke-width="0.9"/>
<rect x="491.60" y="364.24" width="9.8" height="4.96" fill="#858585" stroke="#3a3a3a" stroke-width="0.9"/>
<rect x="501.40" y="365.89" width="10.1" height="3.31" fill="url(#hatch)" stroke="#3a3a3a" stroke-width="0.9"/>
<line x1="501.4" y1="369.2" x2="501.4" y2="373.2" stroke="#333" stroke-width="0.9"/>
<text x="402.1" y="385.1" font-size="9.7" font-weight="bold" text-anchor="middle" fill="#111" >1</text>
<text x="435.3" y="385.1" font-size="9.7" font-weight="bold" text-anchor="middle" fill="#111" >2</text>
<text x="468.4" y="385.1" font-size="9.7" font-weight="bold" text-anchor="middle" fill="#111" >3</text>
<text x="501.4" y="385.1" font-size="9.7" font-weight="bold" text-anchor="middle" fill="#111" >4</text>
<line x1="385" y1="237" x2="385" y2="369.2" stroke="#444" stroke-width="1"/>
<line x1="381.5" y1="237" x2="517.8" y2="237" stroke="#444" stroke-width="1"/>
<line x1="517.8" y1="237" x2="517.8" y2="369.2" stroke="#7a7a7a" stroke-width="1"/>
<line x1="381.5" y1="369.2" x2="517.8" y2="369.2" stroke="#444" stroke-width="1"/>
<line x1="381.5" y1="347.17" x2="385" y2="347.17" stroke="#444" stroke-width="1"/>
<text x="378.8" y="351.0666666666666" font-size="10" font-weight="bold" text-anchor="end" fill="#111" >2</text>
<line x1="381.5" y1="325.13" x2="385" y2="325.13" stroke="#444" stroke-width="1"/>
<text x="378.8" y="329.0333333333333" font-size="10" font-weight="bold" text-anchor="end" fill="#111" >4</text>
<line x1="381.5" y1="303.10" x2="385" y2="303.10" stroke="#444" stroke-width="1"/>
<text x="378.8" y="307.0" font-size="10" font-weight="bold" text-anchor="end" fill="#111" >6</text>
<line x1="381.5" y1="281.07" x2="385" y2="281.07" stroke="#444" stroke-width="1"/>
<text x="378.8" y="284.96666666666664" font-size="10" font-weight="bold" text-anchor="end" fill="#111" >8</text>
<line x1="381.5" y1="259.03" x2="385" y2="259.03" stroke="#444" stroke-width="1"/>
<text x="378.8" y="262.9333333333333" font-size="10" font-weight="bold" text-anchor="end" fill="#111" >10</text>
<text x="457" y="249.2" font-size="8.7" font-weight="bold" text-anchor="middle" fill="#111" >Hemoglobin</text>
<text x="277.5" y="399.2" font-size="10.4" font-weight="bold" text-anchor="middle" fill="#111" >Clone Number</text>
<text x="9.0" y="304.5" font-size="10.1" font-weight="bold" text-anchor="middle" fill="#111" transform="rotate(-90 9.0 304.5)" >% marker positive cells</text>
</svg></body></html>
